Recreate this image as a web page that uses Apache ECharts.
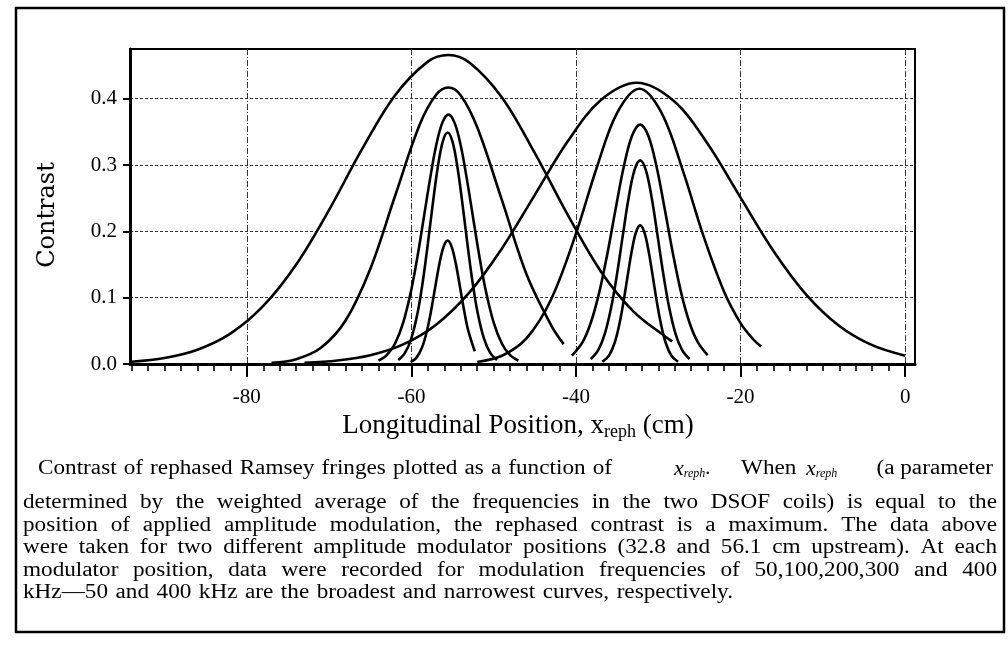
<!DOCTYPE html>
<html>
<head>
<meta charset="utf-8">
<script src="https://cdn.jsdelivr.net/npm/echarts@6/dist/echarts.min.js"></script>
<style>
  html, body { margin: 0; padding: 0; background: #fff; }
  #chart { width: 1008px; height: 649px; }
</style>
</head>
<body>
<div id="chart"></div>
<script>
// axis ticks
const xMajorTicks = [-80, -60, -40, -20, 0];
const yTicks = [0, 0.1, 0.2, 0.3, 0.4];

// modulator at 56.1 cm upstream: 50, 100, 200, 300, 400 kHz  [x (cm), contrast]
const left50 = [[-94,0.0035],[-90,0.0091],[-86,0.0216],[-82,0.0458],[-78,0.0875],[-74,0.150],[-70,0.2325],[-66,0.324],[-62,0.405],[-58,0.456],[-55.5,0.466],[-53,0.455],[-49,0.402],[-45,0.318],[-41,0.225],[-37,0.140],[-33,0.079],[-29,0.040],[-28.3,0.034]];
const left100 = [[-77,0.0018],[-74,0.0073],[-71,0.0244],[-68,0.0656],[-65,0.1433],[-62,0.2529],[-59,0.3607],[-57,0.406],[-55.5,0.417],[-54,0.405],[-52,0.357],[-49,0.247],[-46,0.135],[-43,0.058],[-41.5,0.03]];
const left200 = [[-64,0.0051],[-63,0.0133],[-62,0.0305],[-61,0.0623],[-60,0.1128],[-59.25,0.163],[-58.5,0.2202],[-57.75,0.278],[-57,0.329],[-56.25,0.3636],[-55.5,0.376],[-54.75,0.3636],[-54,0.329],[-53.25,0.278],[-52.5,0.2202],[-51.75,0.163],[-51,0.1128],[-50,0.0623],[-49,0.0305],[-48,0.0133],[-47,0.0051]];
const left300 = [[-61.6,0.0059],[-60.8,0.0163],[-60,0.0389],[-59.2,0.0803],[-58.6,0.1259],[-58,0.1817],[-57.4,0.2417],[-56.8,0.2964],[-56.2,0.335],[-55.6,0.349],[-55,0.335],[-54.4,0.2964],[-53.8,0.2417],[-53.2,0.1817],[-52.6,0.1259],[-52,0.0803],[-51.2,0.0389],[-50.4,0.0163],[-49.6,0.0059]];
const left400 = [[-60.1,0.0028],[-59.4,0.0092],[-58.7,0.0252],[-58.1,0.0507],[-57.6,0.0809],[-57.1,0.1165],[-56.6,0.151],[-56.1,0.1765],[-55.6,0.186],[-55.1,0.1765],[-54.6,0.151],[-54.1,0.1165],[-53.6,0.0809],[-53.1,0.0507],[-52.3,0.0193]];

// modulator at 32.8 cm upstream
const right50 = [[-73,0.0019],[-69,0.0053],[-65,0.0132],[-61,0.0295],[-57,0.0593],[-53,0.1072],[-49,0.1743],[-45,0.2551],[-41,0.3358],[-37,0.3977],[-32.6,0.424],[-28,0.3954],[-24,0.3321],[-20,0.2509],[-16,0.1705],[-12,0.1043],[-8,0.0574],[-4,0.0284],[0,0.0126]];
const right100 = [[-52,0.0031],[-49,0.0124],[-46,0.039],[-43,0.0981],[-40,0.1967],[-37.5,0.2952],[-35,0.3786],[-32.3,0.415],[-29.6,0.3786],[-27,0.2913],[-24.5,0.1929],[-22,0.1091],[-20,0.0617],[-18.5,0.0377],[-17.5,0.0263]];
const right200 = [[-40.5,0.0125],[-39.2,0.033],[-38.2,0.0622],[-37.2,0.1065],[-36.2,0.1653],[-35.2,0.2326],[-34.2,0.297],[-33.2,0.3438],[-32.2,0.361],[-31.2,0.3438],[-30.2,0.297],[-29.2,0.2326],[-28.2,0.1653],[-27.2,0.1065],[-26.2,0.0622],[-25.2,0.033],[-24,0.0135]];
const right300 = [[-38.2,0.0075],[-37.3,0.0209],[-36.5,0.0454],[-35.7,0.0866],[-35,0.1366],[-34.3,0.1947],[-33.6,0.2507],[-32.9,0.2918],[-32.2,0.307],[-31.5,0.2918],[-30.8,0.2507],[-30.1,0.1947],[-29.4,0.1366],[-28.7,0.0866],[-27.9,0.0454],[-27.1,0.0209],[-26.2,0.0075]];
const right400 = [[-36.8,0.0034],[-36,0.0125],[-35.3,0.032],[-34.7,0.0617],[-34.2,0.0957],[-33.7,0.1347],[-33.2,0.1719],[-32.7,0.199],[-32.2,0.209],[-31.7,0.199],[-31.2,0.1719],[-30.7,0.1347],[-30.2,0.0957],[-29.7,0.0617],[-29.1,0.032],[-28.4,0.0125],[-27.6,0.0034]];

const captionLines = [
  'determined by the weighted average of the frequencies in the two DSOF coils) is equal to the',
  'position of applied amplitude modulation, the rephased contrast is a maximum.  The data above',
  'were taken for two different amplitude modulator positions (32.8 and 56.1 cm upstream).  At each',
  'modulator position, data were recorded for modulation frequencies of 50,100,200,300 and 400',
  'kHz\u201450 and 400 kHz are the broadest and narrowest curves, respectively.'
];

const xMin = -94.2, xMax = 1.2;
const xMinorTicks = [];
for (let v = -94; v <= 0; v += 2) xMinorTicks.push(v);

const serif = 'Liberation Serif';
const capSize = 20;
const capStretch = 1.16;   // the scanned font is wider than Times

// spread words of one line between x0 and x1 (justified text)
const measure = document.createElement('canvas').getContext('2d');
function word(text, x, y, align) {
  return { type: 'text', x: x, y: y, scaleX: capStretch,
    style: { text: text, fontFamily: serif, fontSize: capSize, fill: '#000', verticalAlign: 'middle', align: align || 'left' } };
}
function justify(text, x0, x1, y) {
  measure.font = capSize + "px '" + serif + "'";
  const words = text.split(/\s+/);
  const widths = words.map(w => measure.measureText(w).width * capStretch);
  const total = widths.reduce((a, b) => a + b, 0);
  const gap = (x1 - x0 - total) / (words.length - 1);
  let x = x0;
  return words.map((w, i) => {
    const el = word(w, x, y);
    x += widths[i] + gap;
    return el;
  });
}

const xreph = (x, y, tail) => ({
  type: 'text', x: x, y: y,
  style: {
    text: '{i|x}{s|reph}' + tail, fontFamily: serif, fontSize: capSize, fill: '#000', verticalAlign: 'middle',
    rich: {
      i: { fontFamily: serif, fontSize: 22, fontStyle: 'italic' },
      s: { fontFamily: serif, fontSize: 12, fontStyle: 'italic', padding: [10, 0, 0, 0] }
    }
  }
});

const lineY = [503, 526, 548, 571, 593];
const rightEdge = [997, 997, 997, 997, 733];
let caption = [];
caption = caption.concat(justify('Contrast of rephased Ramsey fringes plotted as a function of', 38, 612, 469));
caption.push(xreph(674, 469, '.'));
caption.push(word('When', 741, 469));
caption.push(xreph(806, 469, ''));
caption.push(word('(a parameter', 993, 469, 'right'));
captionLines.forEach((t, i) => { caption = caption.concat(justify(t, 23, rightEdge[i], lineY[i])); });

function curve(data) {
  return {
    type: 'line', data: data, smooth: 0.35, showSymbol: false, silent: true,
    lineStyle: { color: '#000', width: 2.6 }
  };
}

const chart = echarts.init(document.getElementById('chart'));
chart.setOption({
  animation: false,
  backgroundColor: '#fff',
  grid: { left: 130, right: 93, top: 49, bottom: 285, show: true, borderColor: '#000', borderWidth: 2 },
  xAxis: [{
    type: 'value', min: xMin, max: xMax, position: 'bottom',
    axisLine: { onZero: false, lineStyle: { color: '#000', width: 3 } },
    axisTick: { customValues: xMajorTicks, length: 13, lineStyle: { color: '#000', width: 2 } },
    axisLabel: { customValues: xMajorTicks, margin: 23, color: '#000', fontFamily: serif, fontSize: 21, formatter: v => String(v) },
    splitLine: { show: true, lineStyle: { color: '#333', width: 1, type: [6, 2, 1, 2] } }
  }, {
    type: 'value', min: xMin, max: xMax, position: 'bottom',
    axisLine: { show: false, onZero: false },
    axisTick: { customValues: xMinorTicks, length: 7, lineStyle: { color: '#000', width: 1.6 } },
    axisLabel: { show: false },
    splitLine: { show: false }
  }],
  yAxis: {
    type: 'value', min: 0, max: 0.475, position: 'left',
    axisLine: { show: true, onZero: false, lineStyle: { color: '#000', width: 3 } },
    axisTick: { show: true, customValues: yTicks, length: 7, lineStyle: { color: '#000', width: 2 } },
    axisLabel: { customValues: yTicks, margin: 13, color: '#000', fontFamily: serif, fontSize: 21, formatter: v => v.toFixed(1) },
    splitLine: { show: true, lineStyle: { color: '#333', width: 1, type: [3, 2] } }
  },
  series: [left50, left100, left200, left300, left400, right50, right100, right200, right300, right400].map(curve),
  graphic: [
    { type: 'rect', shape: { x: 16, y: 8, width: 988, height: 624 }, style: { fill: 'none', stroke: '#000', lineWidth: 2.5 }, z: -1 },
    { type: 'text', x: 48, y: 215, rotation: Math.PI / 2,
      style: { text: 'Contrast', fontFamily: 'DejaVu Serif', fontSize: 24, fill: '#000', align: 'center', verticalAlign: 'middle' } },
    { type: 'text', x: 518, y: 426,
      style: { text: 'Longitudinal Position, x{s|reph} (cm)', fontFamily: serif, fontSize: 27, fill: '#000', align: 'center', verticalAlign: 'middle',
        rich: { s: { fontFamily: serif, fontSize: 18, padding: [12, 0, 0, 0] } } } }
  ].concat(caption)
});
</script>
</body>
</html>
